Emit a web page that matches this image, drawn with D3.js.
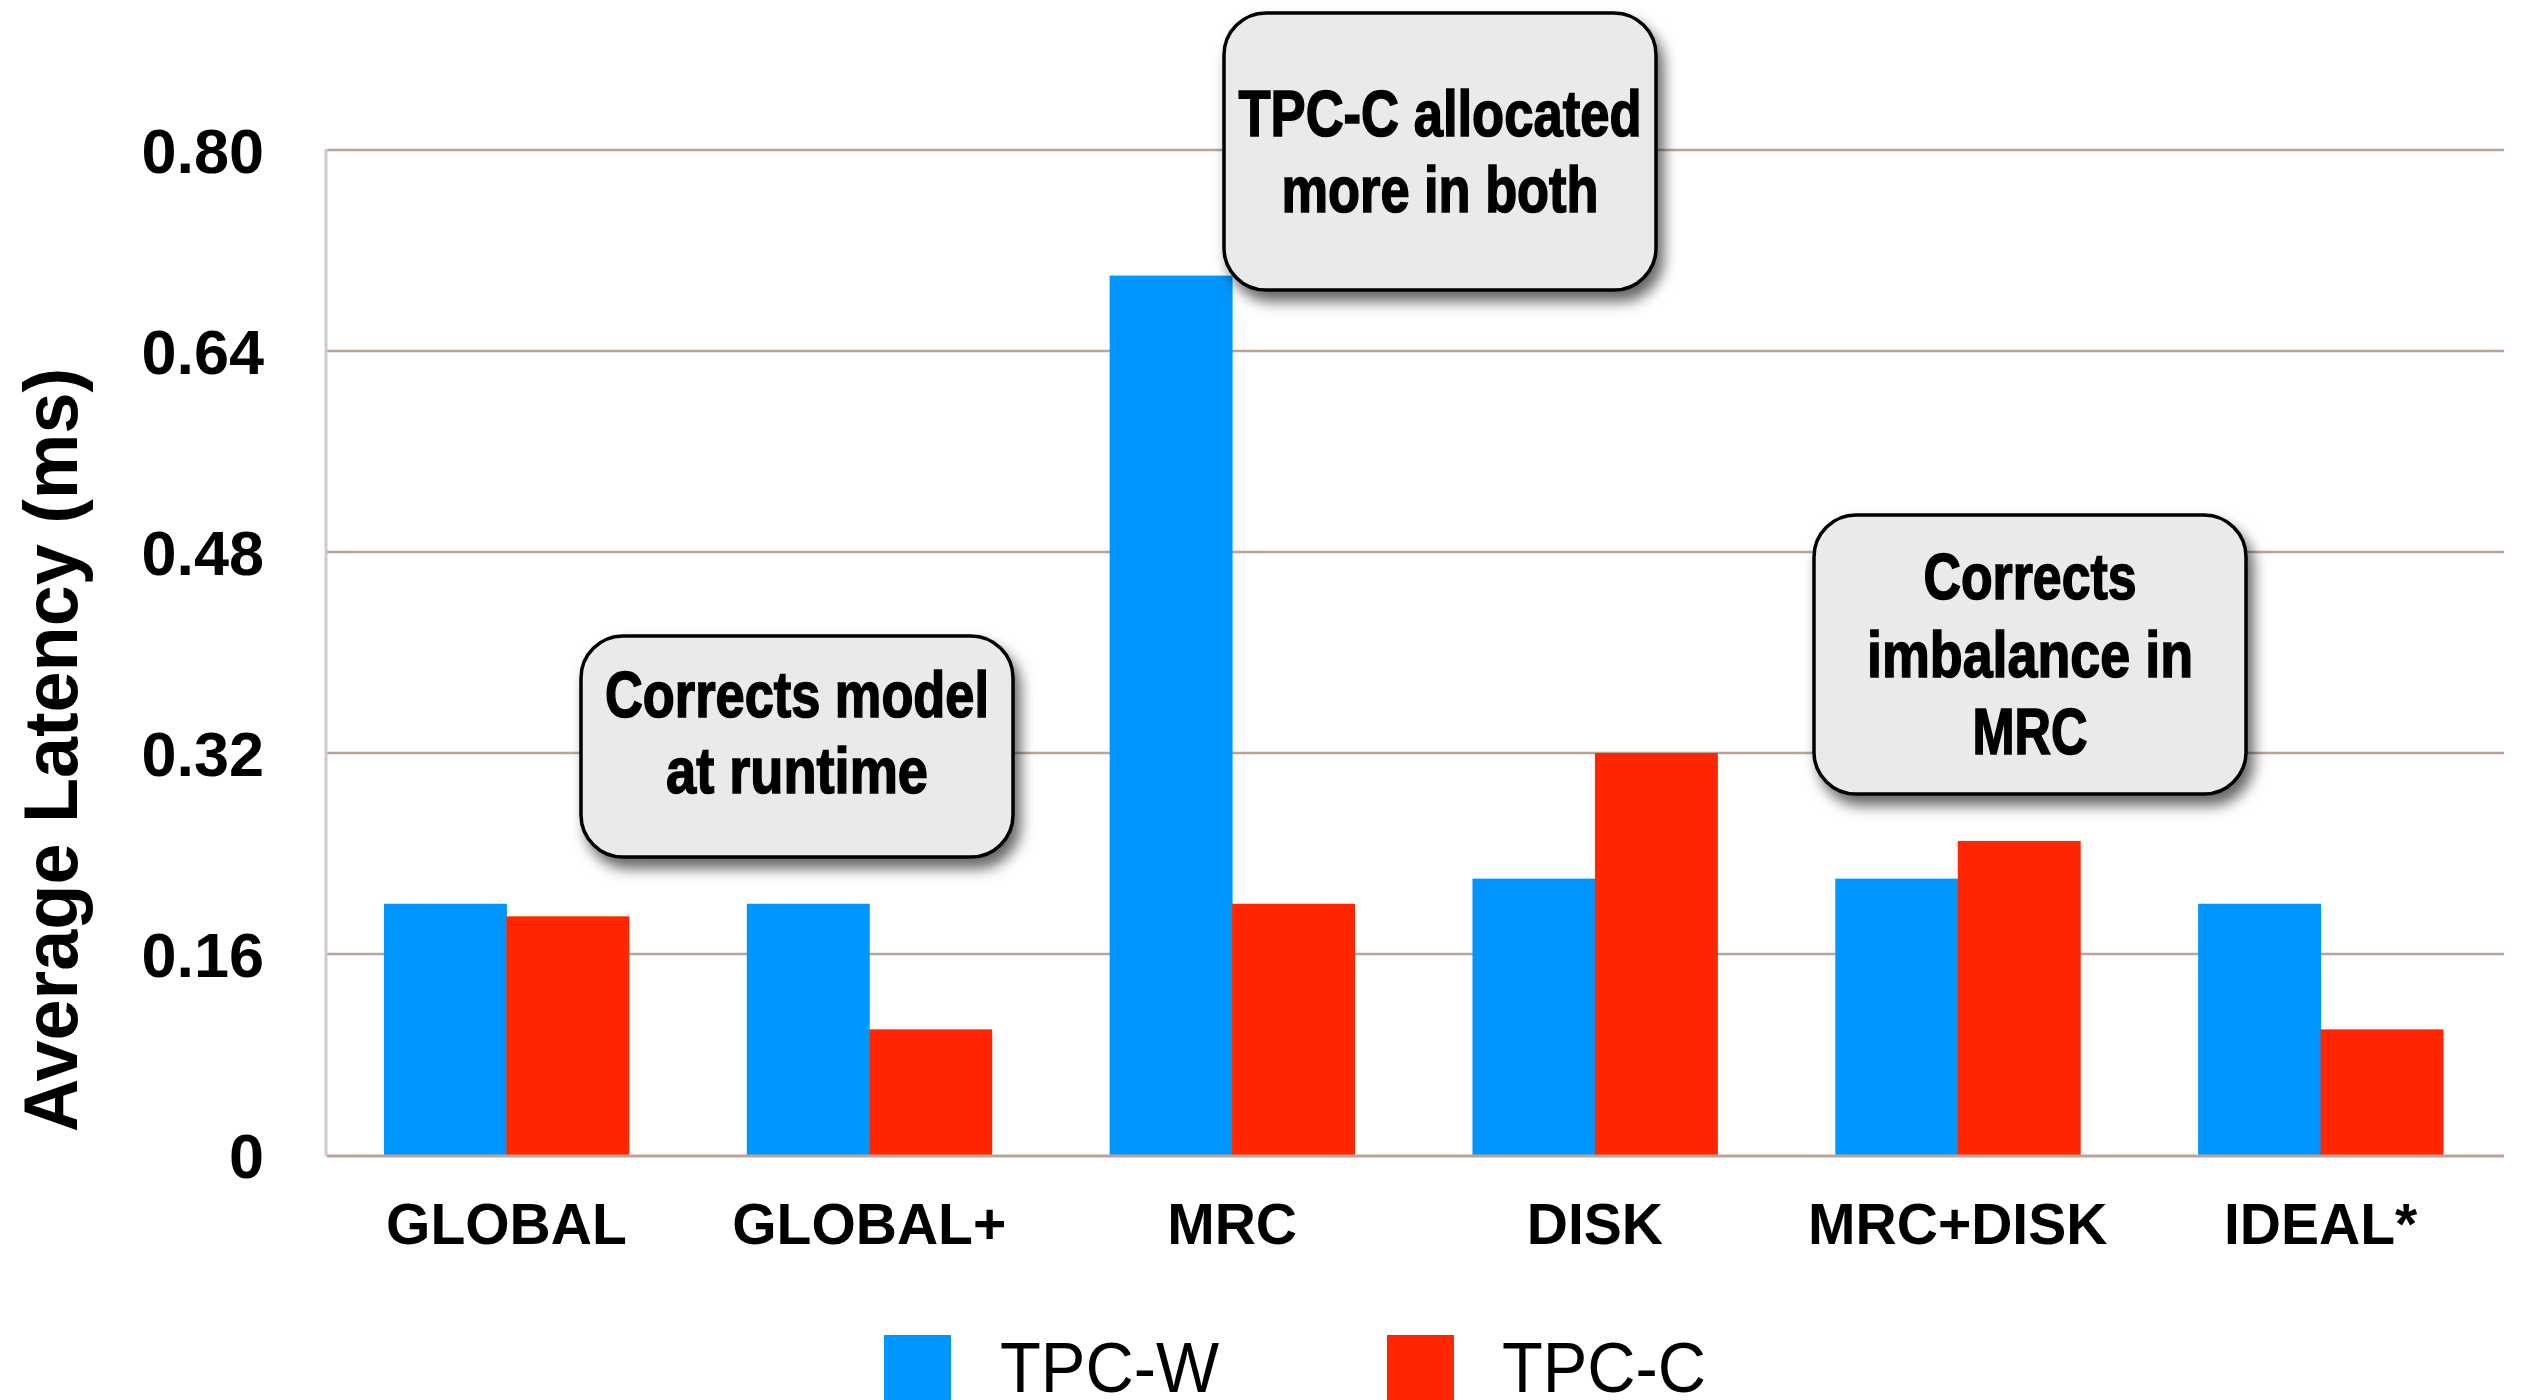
<!DOCTYPE html>
<html>
<head>
<meta charset="utf-8">
<script src="https://cdn.jsdelivr.net/npm/d3@7/dist/d3.min.js"></script>
<style>
  html, body { margin: 0; padding: 0; background: #ffffff; }
  svg { display: block; }
</style>
</head>
<body>
<script>
// Average latency per allocation policy, two workloads
const categories = ["GLOBAL", "GLOBAL+", "MRC", "DISK", "MRC+DISK", "IDEAL*"];
const seriesNames = ["TPC-W", "TPC-C"];
const tpcW = [0.20, 0.20, 0.70, 0.22, 0.22, 0.20];
const tpcC = [0.19, 0.10, 0.20, 0.32, 0.25, 0.10];
const yTicks = [0, 0.16, 0.32, 0.48, 0.64, 0.80];
const yTickLabels = ["0", "0.16", "0.32", "0.48", "0.64", "0.80"];
const yTitle = "Average Latency (ms)";
const noteTexts = [
  ["Corrects model", "at runtime"],
  ["TPC-C allocated", "more in both"],
  ["Corrects", "imbalance in", "MRC"]
];

// Layout and styling
const W = 2528, H = 1400;
const plot = { left: 327, right: 2504, top: 150, bottom: 1155 };
const colors = ["#0096ff", "#ff2600"];
const gridColor = "#bda397";
const boldFont = "'Liberation Sans', Arial, Helvetica, sans-serif";
const narrowFont = "'Liberation Sans Narrow', 'Arial Narrow', 'Liberation Sans', Arial, sans-serif";

// callout boxes: box geometry, baselines of each line and fitted line widths
const noteLayout = [
  { x: 581, y: 636, w: 432, h: 221, baselines: [717, 793], widths: [384, 262] },
  { x: 1224, y: 13, w: 432, h: 277, baselines: [136, 212], widths: [403, 317] },
  { x: 1814, y: 515, w: 432, h: 279, baselines: [599, 677, 754], widths: [213, 326, 115] }
];

const svg = d3.select("body").append("svg")
  .attr("width", W).attr("height", H)
  .attr("viewBox", `0 0 ${W} ${H}`);

const defs = svg.append("defs");
const shadow = defs.append("filter").attr("id", "noteShadow")
  .attr("x", "-20%").attr("y", "-20%").attr("width", "150%").attr("height", "150%");
shadow.append("feDropShadow")
  .attr("dx", 6).attr("dy", 10).attr("stdDeviation", 7)
  .attr("flood-color", "#000").attr("flood-opacity", 0.6);

const x = d3.scaleBand().domain(categories).range([plot.left, plot.right]).padding(0);
const groupFrac = 0.675;
const x1 = d3.scaleBand().domain(seriesNames)
  .range([0, x.bandwidth() * groupFrac]).padding(0);
const groupOffset = x.bandwidth() * (1 - groupFrac) / 2 - 2;
const y = d3.scaleLinear().domain([0, 0.8]).range([plot.bottom, plot.top]);

// horizontal gridlines
svg.append("g").selectAll("line")
  .data(yTicks.filter(t => t > 0))
  .join("line")
  .attr("x1", plot.left).attr("x2", plot.right)
  .attr("y1", d => y(d)).attr("y2", d => y(d))
  .attr("stroke", gridColor).attr("stroke-width", 2.5);

// left axis line
svg.append("line")
  .attr("x1", plot.left - 1).attr("x2", plot.left - 1)
  .attr("y1", plot.top - 1).attr("y2", plot.bottom + 1)
  .attr("stroke", "#cccccc").attr("stroke-width", 3);

// bars
const rows = categories.map((c, i) => ({ cat: c, values: [tpcW[i], tpcC[i]] }));
const groups = svg.append("g").selectAll("g")
  .data(rows).join("g")
  .attr("transform", d => `translate(${x(d.cat) + groupOffset},0)`);
groups.selectAll("rect")
  .data(d => d.values.map((v, k) => ({ name: seriesNames[k], v, k })))
  .join("rect")
  .attr("x", d => x1(d.name))
  .attr("width", x1.bandwidth() + 0.5)
  .attr("y", d => y(d.v))
  .attr("height", d => y(0) - y(d.v))
  .attr("fill", d => colors[d.k]);

// baseline
svg.append("line")
  .attr("x1", plot.left).attr("x2", plot.right)
  .attr("y1", plot.bottom + 1).attr("y2", plot.bottom + 1)
  .attr("stroke", gridColor).attr("stroke-width", 3);

// y tick labels
const yAxis = d3.axisLeft(y)
  .tickValues(yTicks)
  .tickFormat((d, i) => yTickLabels[i])
  .tickSize(0).tickPadding(0);
const yg = svg.append("g").attr("transform", `translate(264,0)`).call(yAxis);
yg.select(".domain").remove();
yg.selectAll("text")
  .attr("font-family", boldFont).attr("font-weight", "bold")
  .attr("font-size", 63).attr("fill", "#000")
  .attr("dy", "0.36em");

// x category labels
const xAxis = d3.axisBottom(x).tickSize(0).tickPadding(0);
const xg = svg.append("g").attr("transform", `translate(0,${plot.bottom})`).call(xAxis);
xg.select(".domain").remove();
xg.selectAll("text")
  .attr("font-family", boldFont).attr("font-weight", "bold")
  .attr("font-size", 57).attr("fill", "#000")
  .attr("x", -2)
  .attr("y", 89).attr("dy", 0);

// y axis title
svg.append("text")
  .attr("transform", "translate(77,750) rotate(-90)")
  .attr("text-anchor", "middle")
  .attr("font-family", boldFont).attr("font-weight", "bold")
  .attr("font-size", 76).attr("fill", "#000")
  .attr("textLength", 764).attr("lengthAdjust", "spacingAndGlyphs")
  .text(yTitle);

// callout boxes
const notes = svg.append("g").selectAll("g")
  .data(noteTexts.map((lines, i) => ({ lines, L: noteLayout[i] })))
  .join("g");
notes.append("rect")
  .attr("x", d => d.L.x).attr("y", d => d.L.y)
  .attr("width", d => d.L.w).attr("height", d => d.L.h)
  .attr("rx", 42).attr("ry", 42)
  .attr("fill", "#eaeaea").attr("stroke", "#000").attr("stroke-width", 3.5)
  .attr("filter", "url(#noteShadow)");
notes.each(function (d) {
  d3.select(this).selectAll("text")
    .data(d.lines).join("text")
    .attr("x", d.L.x + d.L.w / 2)
    .attr("y", (t, j) => d.L.baselines[j])
    .attr("text-anchor", "middle")
    .attr("font-family", narrowFont).attr("font-weight", "bold")
    .attr("font-size", 64).attr("fill", "#000")
    .attr("stroke", "#000").attr("stroke-width", 1.6)
    .attr("textLength", (t, j) => d.L.widths[j])
    .attr("lengthAdjust", "spacingAndGlyphs")
    .text(t => t);
});

// legend
const legendItems = [
  { name: seriesNames[0], color: colors[0], sx: 884, tx: 1000, tw: 219 },
  { name: seriesNames[1], color: colors[1], sx: 1387, tx: 1502, tw: 204 }
];
const lg = svg.append("g").selectAll("g").data(legendItems).join("g");
lg.append("rect")
  .attr("x", d => d.sx).attr("y", 1335)
  .attr("width", 67).attr("height", 67)
  .attr("fill", d => d.color);
lg.append("text")
  .attr("x", d => d.tx).attr("y", 1392)
  .attr("font-family", "'Liberation Sans', Arial, Helvetica, sans-serif")
  .attr("font-size", 70).attr("fill", "#000")
  .attr("textLength", d => d.tw).attr("lengthAdjust", "spacingAndGlyphs")
  .text(d => d.name);
</script>
</body>
</html>
